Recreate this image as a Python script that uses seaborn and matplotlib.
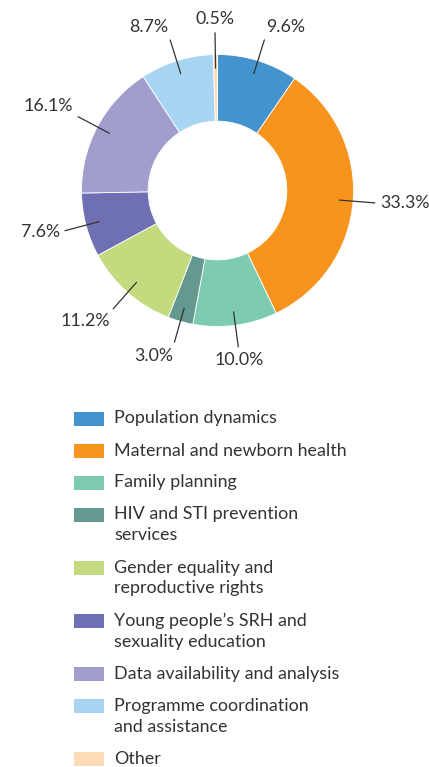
import numpy as np
import seaborn as sns
import matplotlib.pyplot as plt
from matplotlib.patches import Rectangle

sns.set_theme(style="white")
plt.rcParams['font.family'] = ['Lato', 'DejaVu Sans']

categories = [
	"Population dynamics",
	"Maternal and newborn health",
	"Family planning",
	"HIV and STI prevention\nservices",
	"Gender equality and\nreproductive rights",
	"Young people\u2019s SRH and\nsexuality education",
	"Data availability and analysis",
	"Programme coordination\nand assistance",
	"Other",
]
shares = [9.6, 33.3, 10.0, 3.0, 11.2, 7.6, 16.1, 8.7, 0.5]
colors = ["#4393cf", "#f7941e", "#7dcbb1", "#65988e", "#c3db7e",
          "#6f70b3", "#a19ece", "#a8d5f2", "#fddbb4"]

TEXT = "#333333"
W, H = 429, 767
PX = 136  # pixels per unit radius

fig = plt.figure(figsize=(W / 100, H / 100), dpi=100)

# donut axes, top part of the figure
cx, cy, top_h = 217.5, 190.5, 380
ax = fig.add_axes([0, (H - top_h) / H, 1, top_h / H])
wedges, _ = ax.pie(shares, colors=colors, startangle=90, counterclock=False,
                   radius=1.0, wedgeprops=dict(width=0.49, edgecolor="white", linewidth=0.6))
ax.set_xlim(-cx / PX, (W - cx) / PX)
ax.set_ylim(-(top_h - cy) / PX, cy / PX)
ax.set_aspect("auto")
ax.axis("off")

# leader lines and percentage labels
for w, val in zip(wedges, shares):
	ang = np.deg2rad((w.theta1 + w.theta2) / 2)
	c, s = np.cos(ang), np.sin(ang)
	ax.plot([0.9 * c, 1.16 * c], [0.9 * s, 1.16 * s], color=TEXT, lw=0.9)
	ha = "left" if c > 0.25 else ("right" if c < -0.25 else "center")
	va = "bottom" if s > 0.3 else ("top" if s < -0.3 else "center")
	r = 1.2
	ax.text(r * c, r * s, f"{val:.1f}%", ha=ha, va=va, fontsize=12.8, color=TEXT)

# legend drawn in pixel space below the donut
lax = fig.add_axes([0, 0, 1, 1])
lax.set_xlim(0, W)
lax.set_ylim(H, 0)
lax.axis("off")
y = 418.5
for label, col in zip(categories, colors):
	lax.add_patch(Rectangle((74, y - 7), 30, 14, facecolor=col, edgecolor="none"))
	lines = label.split("\n")
	for k, line in enumerate(lines):
		lax.text(114, y + 21 * k, line, ha="left", va="center", fontsize=12.9, color=TEXT)
	y += 32 + 21 * (len(lines) - 1)

fig.savefig("out.png", dpi=100)
